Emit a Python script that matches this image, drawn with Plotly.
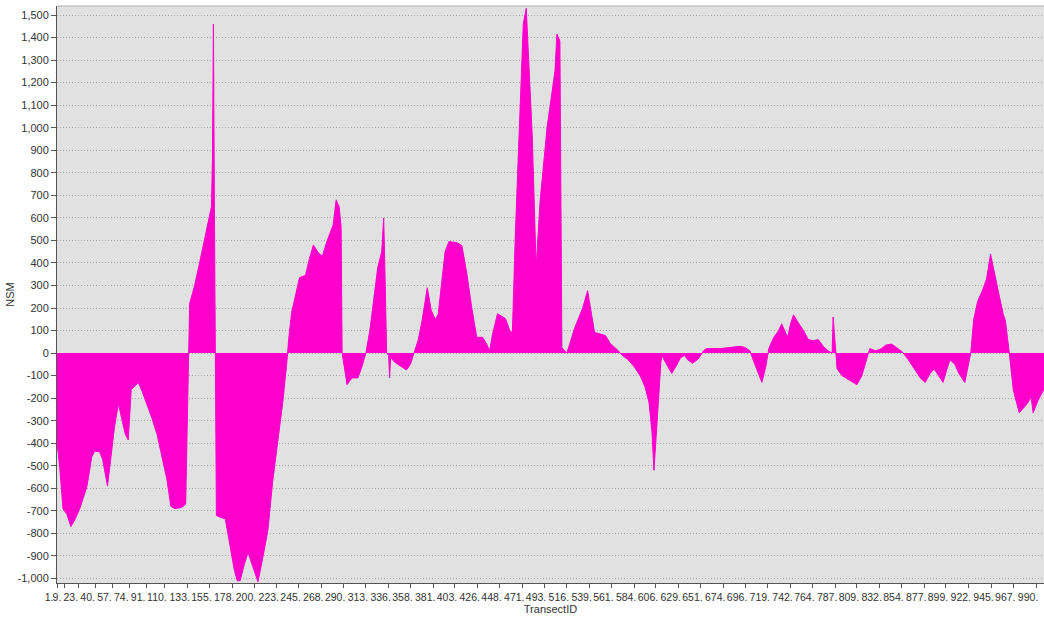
import plotly.graph_objects as go

# TransectID positions and NSM values
transect_id = [
    1, 4, 7, 11, 15, 19, 24, 28, 31, 34, 36, 39, 44, 47, 52, 55, 59, 63, 66, 70,
    73, 76, 79, 83, 87, 92, 97, 102, 107, 112, 116, 120, 127, 131,
    135, 140, 145, 149, 153, 156, 157, 158, 159, 160,
    162, 166, 171, 176, 180, 183, 186, 190, 194, 199, 204, 209, 214, 219, 224, 229, 233,
    235, 238, 242, 246, 252, 256, 260, 265, 269, 274, 280, 283, 286, 288,
    289, 294, 299, 305, 309, 313, 317, 321, 325, 329, 331, 332, 334, 336, 337, 338,
    342, 347, 354, 358, 362, 366, 370, 375, 379, 383, 386, 389, 393, 397, 405, 410,
    415, 420, 425, 431, 435, 438, 441, 446, 454, 459, 461, 464, 469, 472, 475, 477,
    481, 485, 489, 496, 501, 504, 506, 509, 511, 516, 524, 532, 537, 544, 555, 560,
    567, 572, 578, 584, 590, 595, 599, 602, 604, 606, 608, 611, 612, 618, 622, 626,
    631, 635, 638, 643, 649, 654, 657, 671, 681, 691, 696, 701, 705, 709, 713, 717,
    720, 725, 730, 733, 736, 739, 742, 745, 749, 755, 760, 765, 770, 775, 780, 784,
    785, 787, 789, 794, 802, 809, 814, 818, 822, 828, 834, 838, 844, 849, 855, 861,
    867, 873, 878, 883, 887, 891, 896, 900, 903, 908, 912, 918, 921, 924, 927, 931,
    936, 940, 944, 948, 953, 957, 959, 963, 967, 973, 981, 985, 987, 992, 998,
]
nsm = [
    -390, -520, -690, -715, -770, -740, -690, -640, -596, -520, -462, -435, -438, -470, -590, -480, -330, -225, -280, -360,
    -385, -160, -150, -130, -170, -230, -290, -360, -460, -560, -680, -690, -685, -670,
    220, 300, 400, 480, 560, 620, 650, 860, 1460, 640,
    -720, -729, -735, -860, -960, -1010, -1010, -940, -885, -950, -1015, -905, -787, -565, -400, -220, -50,
    60, 180, 260, 335, 345, 420, 480, 445, 430, 500, 570, 680, 650, 560,
    0, -140, -110, -110, -60, 0, 100, 250, 380, 450, 600, 420, 0, -10, -110, -20,
    -40, -55, -75, -50, 0, 60, 150, 290, 190, 150, 170, 280, 450, 495, 490, 477,
    352, 200, 70, 70, 40, 10, 85, 175, 153, 92, 95, 530, 1120, 1460, 1530, 1340,
    970, 380, 675, 1000, 1150, 1250, 1415, 1385, 25, 0, 113, 200, 277, 92, 78, 42,
    15, -10, -30, -60, -100, -150, -220, -350, -520, -400, -250, -40, -10, -60, -90, -60,
    -20, -10, -30, -45, -25, 10, 20, 20, 25, 30, 25, 10, -40, -90, -130, -60,
    20, 70, 100, 130, 100, 70, 130, 170, 140, 100, 60, 55, 60, 30, 10, 0,
    160, 20, -70, -100, -120, -140, -100, -40, 20, 10, 20, 35, 40, 25, 5, -30,
    -70, -110, -130, -90, -70, -95, -130, -70, -30, -50, -90, -130, -60, 0, 150, 230,
    280, 330, 440, 350, 250, 170, 145, 0, -165, -265, -225, -195, -265, -210, -160,
]

x_tick_ids = [1, 9, 23, 40, 57, 74, 91, 110, 133, 155, 178, 200, 223, 245, 268, 290,
              313, 336, 358, 381, 403, 426, 448, 471, 493, 516, 539, 561, 584, 606,
              629, 651, 674, 696, 719, 742, 764, 787, 809, 832, 854, 877, 899, 922,
              945, 967, 990]
x_tick_text = [f"{v}." for v in x_tick_ids]

y_tick_vals = list(range(-1000, 1501, 100))
y_tick_text = [f"{v:,}" for v in y_tick_vals]

MAGENTA = "#FF00CC"
FONT = "Liberation Sans, Arial, sans-serif"

fig = go.Figure()
fig.add_trace(go.Scatter(
    x=transect_id, y=nsm, mode="lines", fill="tozeroy",
    fillcolor=MAGENTA, line=dict(color=MAGENTA, width=1),
    hoverinfo="x+y", showlegend=False,
))

fig.update_layout(
    width=1044, height=619,
    margin=dict(l=57, r=0, t=6, b=36),
    paper_bgcolor="white", plot_bgcolor="#E1E1E1",
    font=dict(family=FONT, size=11, color="#333333"),
    xaxis=dict(
        range=[1, 998], tickmode="array", tickvals=x_tick_ids, ticktext=x_tick_text,
        tickangle=0, ticks="outside", ticklen=4, tickcolor="#555555",
        ticklabelshift=-8, ticklabelstandoff=0,
        showgrid=False, zeroline=False,
        showline=True, linecolor="#555555", linewidth=1,
        title=dict(text="TransectID", standoff=2, font=dict(size=11)),
        tickfont=dict(size=10.5, color="#333333"),
    ),
    yaxis=dict(
        range=[-1020, 1540], tickmode="array", tickvals=y_tick_vals, ticktext=y_tick_text,
        ticks="outside", ticklen=5, tickcolor="#555555",
        showgrid=True, gridcolor="#A8A8A8", griddash="1px,2px", gridwidth=1,
        zeroline=False, showline=True, linecolor="#555555", linewidth=1,
        title=dict(text="NSM", standoff=0, font=dict(size=11)),
        tickfont=dict(size=11, color="#333333"),
    ),
    shapes=[dict(type="line", xref="paper", yref="paper", x0=0, x1=1, y0=1, y1=1,
                 line=dict(color="#B0B0B0", width=1))],
)

fig.write_html("out.html", config={"displayModeBar": False},
               post_script="document.body.style.margin='0';")
